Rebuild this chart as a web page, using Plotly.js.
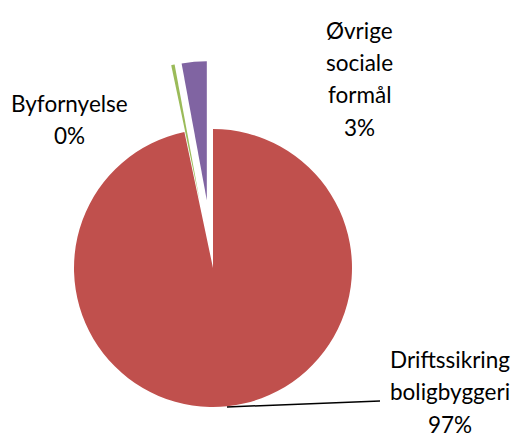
<!DOCTYPE html>
<html><head><meta charset="utf-8">
<script src="https://cdn.plot.ly/plotly-3.0.1.min.js"></script>
<style>html,body{margin:0;padding:0;background:#fff}</style>
</head><body><div id="chart" style="width:519px;height:437px"></div>
<script>
// Data
const categories = ["Driftssikring boligbyggeri", "Byfornyelse", "Øvrige sociale formål"];
const values = [96.7, 0.4, 2.9];
const colors = ["#C0504D", "#9BBB59", "#8064A2"];
const pulls = [0, 0.49, 0.49];

// Layout / style
const W = 519, H = 437, cx = 213, cy = 268, R = 139;
const labelPos = [[450, 359], [69, 103], [359, 30]]; // center x, first line center y (px)
const lineGap = 32.5;
const font = {family: "Lato, 'Open Sans', sans-serif", size: 22.5, color: "#000"};

const total = values.reduce((a, b) => a + b, 0);
let cum = 0;
const traces = [];
values.forEach((v, i) => {
  const start = cum / total * 2 * Math.PI; cum += v;
  const end = cum / total * 2 * Math.PI;
  const mid = (start + end) / 2;
  const off = pulls[i] * R;
  const x0 = cx + off * Math.sin(mid), y0 = cy - off * Math.cos(mid);
  traces.push({
    type: 'pie', values: values, labels: categories, sort: false,
    direction: 'clockwise', rotation: 0,
    marker: {colors: colors.map((c, j) => j === i ? c : 'rgba(0,0,0,0)'), line: {width: 0}},
    textinfo: 'none', hoverinfo: 'label+percent', showlegend: false,
    domain: {x: [(x0 - R) / W, (x0 + R) / W], y: [1 - (y0 + R) / H, 1 - (y0 - R) / H]}
  });
});

const annotations = [];
categories.forEach((c, i) => {
  const lines = c.split(' ').concat([Math.round(values[i] / total * 100) + '%']);
  lines.forEach((t, k) => {
    annotations.push({
      text: t, showarrow: false, xref: 'paper', yref: 'paper',
      x: labelPos[i][0] / W, y: 1 - (labelPos[i][1] + k * lineGap) / H,
      xanchor: 'center', yanchor: 'middle', font: font
    });
  });
});

const layout = {
  width: W, height: H, margin: {l: 0, r: 0, t: 0, b: 0},
  paper_bgcolor: '#fff', plot_bgcolor: '#fff', showlegend: false,
  annotations: annotations,
  shapes: [{type: 'line', xref: 'paper', yref: 'paper',
    x0: 227 / W, y0: 1 - 407 / H, x1: 380 / W, y1: 1 - 401 / H,
    line: {color: '#000', width: 1.5}}]
};
Plotly.newPlot('chart', traces, layout, {displayModeBar: false, staticPlot: true});
</script></body></html>
